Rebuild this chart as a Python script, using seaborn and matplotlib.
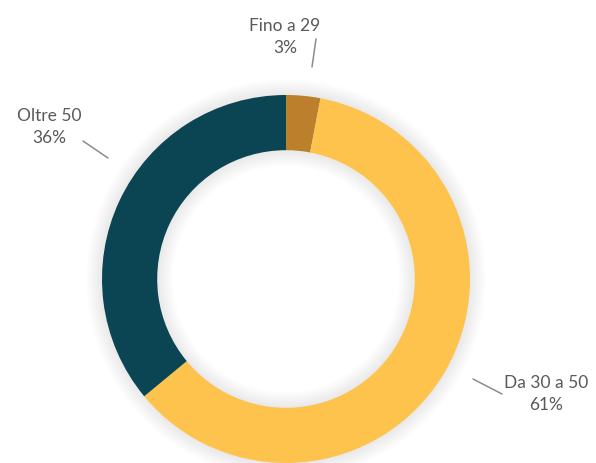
import matplotlib
matplotlib.use("Agg")
import matplotlib.pyplot as plt
import seaborn as sns
import numpy as np

sns.set_theme(style="white")
plt.rcParams['font.family'] = ['Lato', 'DejaVu Sans']

# data
categories = ["Fino a 29", "Da 30 a 50", "Oltre 50"]
shares = [3, 61, 36]
colors = ["#BC7F2B", "#FDC34D", "#0B4452"]

fig = plt.figure(figsize=(5.96, 4.64), dpi=100)
fig.patch.set_facecolor("white")
# donut centre at (286, 280) px, outer radius 184 px
ax = fig.add_axes([102 / 596, 0, 368 / 596, 368 / 464])
ax.set_xlim(-1, 1)
ax.set_ylim(-1, 1)
ax.set_aspect("equal")
ax.axis("off")

# soft shadow around the ring (outside and inside)
for i in range(8):
    ax.pie([1], radius=1.0 + 0.012 * i, colors=["black"],
           wedgeprops=dict(width=0.30 + 0.024 * i, alpha=0.012, linewidth=0),
           frame=False)

wedges, _ = ax.pie(shares, colors=colors, startangle=90, counterclock=False,
                   radius=1.0, wedgeprops=dict(width=0.30, linewidth=0),
                   frame=False)
ax.set_xlim(-1, 1)
ax.set_ylim(-1, 1)

# label layout (pixel positions in the figure)
def to_data(px, py):
    return (px - 286) / 184, (280 - py) / 184

label_layout = {
    "Fino a 29": dict(text=(285, 37), line=[(312, 68), (316, 40)]),
    "Da 30 a 50": dict(text=(546, 394), line=[(473, 380), (502, 395)]),
    "Oltre 50": dict(text=(49, 127), line=[(83, 142), (108, 159)]),
}

for cat, val in zip(categories, shares):
    lay = label_layout[cat]
    tx, ty = to_data(*lay["text"])
    ax.text(tx, ty, f"{cat}\n{val}%", ha="center", va="center",
            fontsize=12.5, color="#595959", linespacing=1.5, clip_on=False)
    (x0, y0), (x1, y1) = [to_data(*p) for p in lay["line"]]
    ax.plot([x0, x1], [y0, y1], color="#8C8C8C", lw=1.1, clip_on=False)

fig.savefig("out.png", dpi=100, facecolor="white")
